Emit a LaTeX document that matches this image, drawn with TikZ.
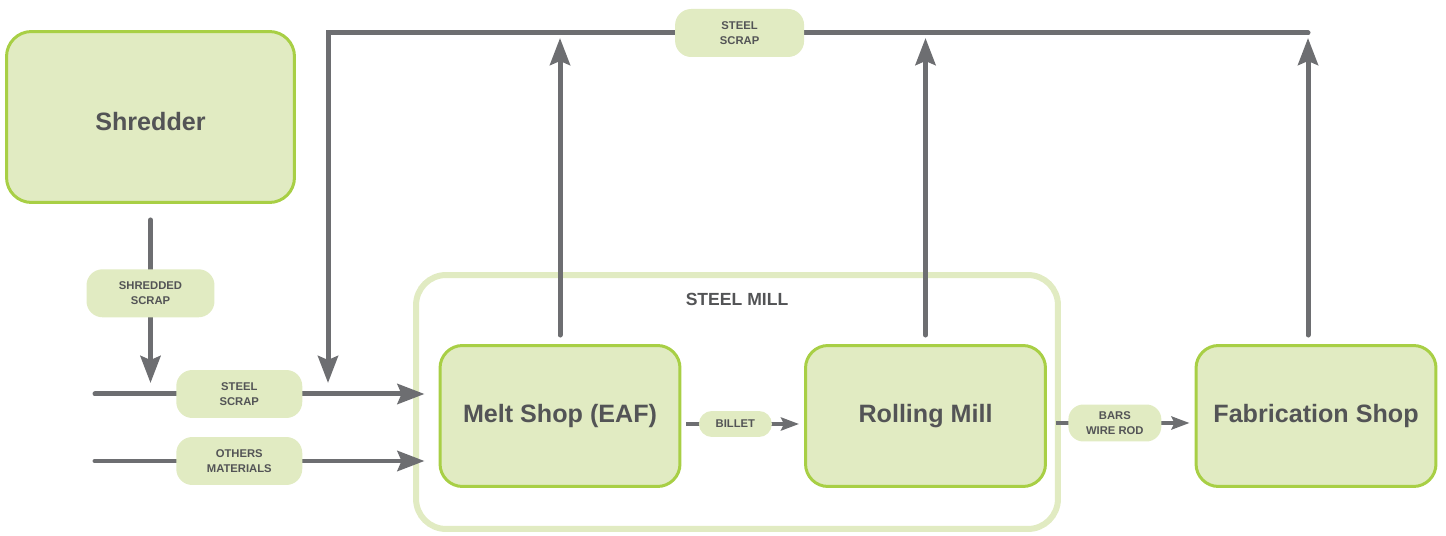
\documentclass[tikz,border=0pt]{standalone}
\usepackage{fontspec}
\setmainfont{Liberation Sans}
\usetikzlibrary{arrows.meta,positioning}
\definecolor{leaf}{HTML}{E1EBC2}
\definecolor{leafline}{HTML}{A8CF45}
\definecolor{ink}{HTML}{535456}
\definecolor{pipe}{HTML}{6D6E71}
\tikzstyle{block} = [rectangle, draw=leafline, line width=0.06cm, fill=leaf,
    rounded corners=0.45cm, text=ink, font=\fontsize{14.3}{16}\selectfont\bfseries,
    minimum width=4.8cm, minimum height=2.82cm]
\tikzstyle{tag} = [rectangle, fill=leaf, rounded corners=0.32cm, text=ink,
    font=\fontsize{6.4}{8.3}\selectfont\bfseries, align=center, inner sep=0pt,
    minimum width=2.52cm, minimum height=0.96cm]
\tikzstyle{flow} = [draw=pipe, line width=0.1cm, line cap=round,
    -{Stealth[length=0.54cm,width=0.4cm,inset=0.08cm]}]
\tikzstyle{smallflow} = [draw=pipe, line width=0.08cm,
    -{Stealth[length=0.36cm,width=0.26cm,inset=0.06cm]}]

\begin{document}
\begin{tikzpicture}[x=0.02cm, y=-0.02cm]
	\useasboundingbox (0,0) rectangle (1446,536);

	\node [rectangle, draw=leaf, line width=0.12cm, rounded corners=0.6cm,
	       minimum width=12.84cm, minimum height=5.08cm] (mill) at (737,402) {};
	\node [text=ink, font=\fontsize{10}{12}\selectfont\bfseries] (millname) at (737,299) {STEEL MILL};

	\node [block, minimum width=5.76cm, minimum height=3.42cm, rounded corners=0.5cm] (shredder) at (150.5,117) {\raisebox{-0.1cm}[\height][\depth]{Shredder}};
	\node [block] (melt) at (560,416) {Melt Shop (EAF)};
	\node [block] (rolling) at (925.5,416) {Rolling Mill};
	\node [block] (fab) at (1316,416) {Fabrication Shop};

	\coordinate (scrapin) at (95,394);
	\coordinate (otherin) at (95,461);
	\coordinate (loopend) at (1308,33);
	\coordinate (loopcorner) at (328,33);

	\path [flow, shorten <=0.32cm, shorten >=0.22cm] (shredder.south) -- node[tag, pos=0.47, minimum width=2.56cm] (shredtag) {SHREDDED\\SCRAP} (shredder.south |- scrapin);
	\path [flow, shorten >=0.22cm] (loopend) -- node[tag, pos=0.58, minimum width=2.58cm] (looptag) {STEEL\\SCRAP} (loopcorner) -- (loopcorner |- scrapin);
	\path [flow, shorten >=0.28cm] (scrapin) -- node[tag, pos=0.42] (scraptag) {STEEL\\SCRAP} (melt.west |- scrapin);
	\path [flow, shorten >=0.28cm] (otherin) -- node[tag, pos=0.42] (othertag) {OTHERS\\MATERIALS} (melt.west |- otherin);

	\path [flow, shorten <=0.18cm, shorten >=0.1cm] (melt.north) -- (melt.north |- loopend);
	\path [flow, shorten <=0.18cm, shorten >=0.1cm] (rolling.north) -- (rolling.north |- loopend);
	\path [flow, shorten <=0.18cm, shorten >=0.1cm] (loopend |- fab.north) -- (loopend);

	\path [smallflow, shorten <=0.1cm, shorten >=0.1cm] ([yshift=-0.16cm]melt.east) -- node[tag, pos=0.44, minimum width=1.46cm, minimum height=0.52cm, rounded corners=0.26cm] (billettag) {BILLET} ([yshift=-0.16cm]rolling.west);
	\path [smallflow, shorten <=0.18cm, shorten >=0.1cm] ([yshift=-0.14cm]rolling.east) -- node[tag, pos=0.46, minimum width=1.86cm, minimum height=0.74cm, rounded corners=0.3cm] (barstag) {BARS\\WIRE ROD} ([yshift=-0.14cm]fab.west);
\end{tikzpicture}
\end{document}
